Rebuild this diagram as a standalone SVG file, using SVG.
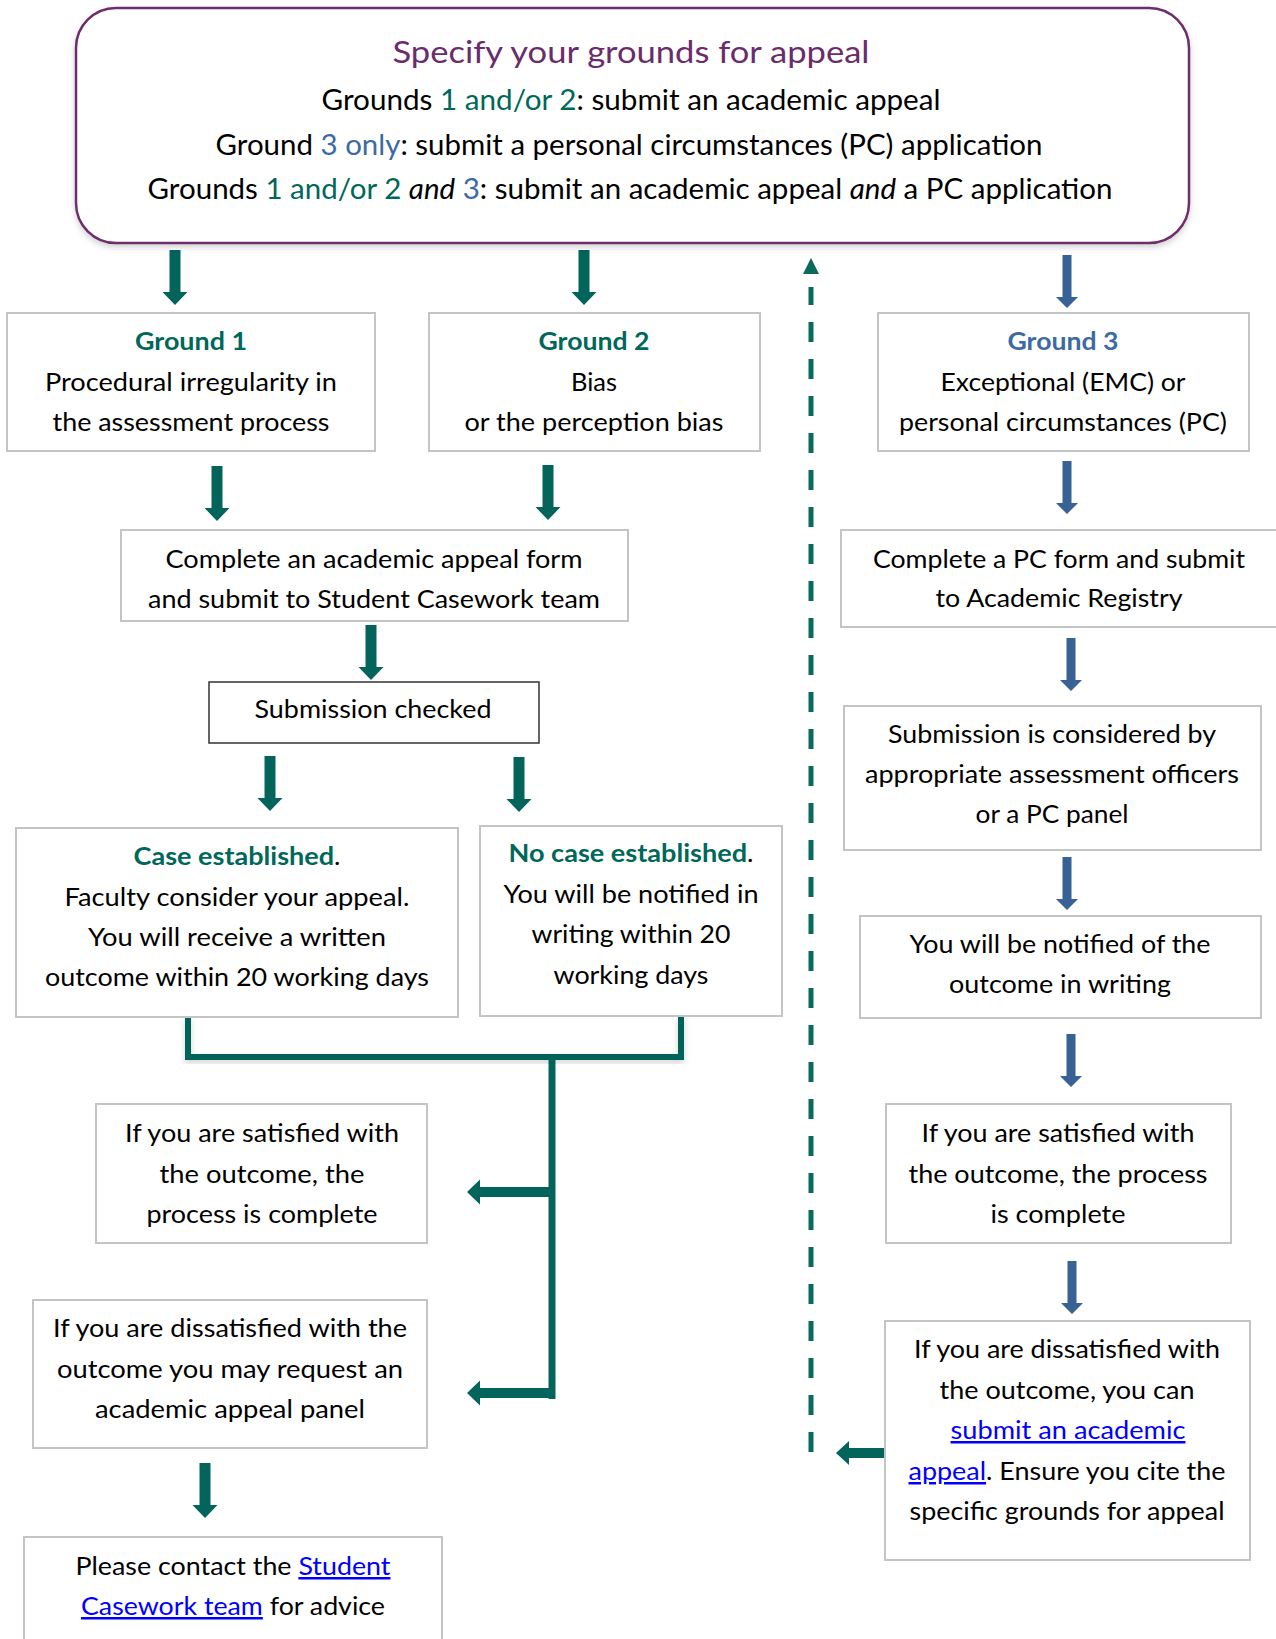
<svg xmlns="http://www.w3.org/2000/svg" xmlns:xlink="http://www.w3.org/1999/xlink" width="1276" height="1639" viewBox="0 0 1276 1639">
<style>
.t{font-family:Lato,"Noto Sans","Open Sans",sans-serif;font-size:25px;fill:#000;text-anchor:middle}
.top{font-size:28.5px}
.title{font-size:30.5px;fill:#6B2C6B}
.b{font-weight:bold}
.i{font-style:italic}
.gr{fill:#00675B}
.bl{fill:#3D6AA3}
.lk{fill:#0000FF;text-decoration:underline}
.blk{fill:#000;font-weight:normal}
.box{fill:#fff;stroke:#C4C4C4;stroke-width:2}
.ga{fill:#02645A}
.ba{fill:#386196}
</style>
<defs>
<filter id="sh" x="-5%" y="-5%" width="110%" height="120%">
<feDropShadow dx="0" dy="3" stdDeviation="3" flood-color="#000" flood-opacity="0.18"/>
</filter>
<path id="gd" class="ga" d="M-5.5,0 H5.5 V42 H12.5 L0,55 L-12.5,42 H-5.5 Z"/>
<path id="bd" class="ba" d="M-4.5,0 H4.5 V42 H11 L0,53 L-11,42 H-4.5 Z"/>
<path id="gl" class="ga" d="M0,0 L13,-12.5 V-5 H85 V5 H13 V12.5 Z"/>
<path id="gl2" class="ga" d="M0,0 L13,-12 V-5 H54 V5 H13 V12 Z"/>
</defs>
<rect width="1276" height="1639" fill="#fff"/>

<g id="connectors">
<use href="#gd" x="175" y="250"/>
<use href="#gd" x="584" y="250"/>
<use href="#gd" x="217" y="466"/>
<use href="#gd" x="548" y="465"/>
<use href="#gd" x="371" y="625"/>
<use href="#gd" x="270" y="756"/>
<use href="#gd" x="519" y="757"/>
<use href="#gd" x="205" y="1463"/>
<use href="#bd" x="1067" y="255"/>
<use href="#bd" x="1067" y="461"/>
<use href="#bd" x="1071" y="638"/>
<use href="#bd" x="1067" y="857"/>
<use href="#bd" x="1071" y="1034"/>
<use href="#bd" x="1072" y="1261"/>
<path d="M188,1017 V1057 H681 V1016" fill="none" stroke="#02645A" stroke-width="6" filter="url(#sh)"/>
<use href="#gl" x="467" y="1192"/>
<use href="#gl" x="467" y="1393"/>
<path d="M552,1057 V1399" fill="none" stroke="#02645A" stroke-width="7"/>
<path d="M811,1452 V287" fill="none" stroke="#0A6A5E" stroke-width="5" stroke-dasharray="20 17"/>
<polygon points="803,274 819,274 811,258" fill="#0A6A5E"/>
<use href="#gl2" x="836" y="1453"/>
</g>

<g id="start">
<rect x="76" y="8" width="1113" height="235" rx="40" fill="#fff" stroke="#6E2E6C" stroke-width="2.5" filter="url(#sh)"/>
<text class="t title" x="631" y="63" textLength="477" lengthAdjust="spacingAndGlyphs">Specify your grounds for appeal</text>
<text class="t top" x="631" y="110" textLength="619" lengthAdjust="spacingAndGlyphs">Grounds <tspan class="gr">1 and/or 2</tspan>: submit an academic appeal</text>
<text class="t top" x="629" y="155" textLength="827" lengthAdjust="spacingAndGlyphs">Ground <tspan class="bl">3 only</tspan>: submit a personal circumstances (PC) application</text>
<text class="t top" x="630" y="199" textLength="965" lengthAdjust="spacingAndGlyphs">Grounds <tspan class="gr">1 and/or 2 </tspan><tspan class="i">and</tspan> <tspan class="bl">3</tspan>: submit an academic appeal <tspan class="i">and</tspan> a PC application</text>
</g>

<g id="ground1">
<rect class="box" x="7" y="313" width="368" height="138"/>
<text class="t b gr" x="191" y="350" textLength="112" lengthAdjust="spacingAndGlyphs">Ground 1</text>
<text class="t" x="191" y="391" textLength="292" lengthAdjust="spacingAndGlyphs">Procedural irregularity in</text>
<text class="t" x="191" y="431" textLength="277" lengthAdjust="spacingAndGlyphs">the assessment process</text>
</g>

<g id="ground2">
<rect class="box" x="429" y="313" width="331" height="138"/>
<text class="t b gr" x="594" y="350" textLength="111" lengthAdjust="spacingAndGlyphs">Ground 2</text>
<text class="t" x="594" y="391" textLength="46" lengthAdjust="spacingAndGlyphs">Bias</text>
<text class="t" x="594" y="431" textLength="259" lengthAdjust="spacingAndGlyphs">or the perception bias</text>
</g>

<g id="ground3">
<rect class="box" x="878" y="313" width="371" height="138"/>
<text class="t b bl" x="1063" y="350" textLength="111" lengthAdjust="spacingAndGlyphs">Ground 3</text>
<text class="t" x="1063" y="391" textLength="245" lengthAdjust="spacingAndGlyphs">Exceptional (EMC) or</text>
<text class="t" x="1063" y="431" textLength="328" lengthAdjust="spacingAndGlyphs">personal circumstances (PC)</text>
</g>

<g id="appeal-form">
<rect class="box" x="121" y="530" width="507" height="91"/>
<text class="t" x="374" y="568" textLength="417" lengthAdjust="spacingAndGlyphs">Complete an academic appeal form</text>
<text class="t" x="374" y="608" textLength="452" lengthAdjust="spacingAndGlyphs">and submit to Student Casework team</text>
</g>

<g id="submission-checked">
<rect x="209" y="682" width="330" height="61" fill="#fff" stroke="#333" stroke-width="1.5"/>
<text class="t" x="373" y="718" textLength="237" lengthAdjust="spacingAndGlyphs">Submission checked</text>
</g>

<g id="case-established">
<rect class="box" x="16" y="828" width="442" height="189"/>
<text class="t b gr" x="237" y="865" textLength="207" lengthAdjust="spacingAndGlyphs">Case established<tspan class="blk">.</tspan></text>
<text class="t" x="237" y="906" textLength="345" lengthAdjust="spacingAndGlyphs">Faculty consider your appeal.</text>
<text class="t" x="237" y="946" textLength="298" lengthAdjust="spacingAndGlyphs">You will receive a written</text>
<text class="t" x="237" y="986" textLength="384" lengthAdjust="spacingAndGlyphs">outcome within 20 working days</text>
</g>

<g id="no-case">
<rect class="box" x="480" y="826" width="302" height="190"/>
<text class="t b gr" x="631" y="862" textLength="245" lengthAdjust="spacingAndGlyphs">No case established<tspan class="blk">.</tspan></text>
<text class="t" x="631" y="903" textLength="255" lengthAdjust="spacingAndGlyphs">You will be notified in</text>
<text class="t" x="631" y="943" textLength="199" lengthAdjust="spacingAndGlyphs">writing within 20</text>
<text class="t" x="631" y="984" textLength="155" lengthAdjust="spacingAndGlyphs">working days</text>
</g>

<g id="satisfied-left">
<rect class="box" x="96" y="1104" width="331" height="139"/>
<text class="t" x="262" y="1142" textLength="274" lengthAdjust="spacingAndGlyphs">If you are satisfied with</text>
<text class="t" x="262" y="1183" textLength="205" lengthAdjust="spacingAndGlyphs">the outcome, the</text>
<text class="t" x="262" y="1223" textLength="231" lengthAdjust="spacingAndGlyphs">process is complete</text>
</g>

<g id="dissatisfied-left">
<rect class="box" x="33" y="1300" width="394" height="148"/>
<text class="t" x="230" y="1337" textLength="354" lengthAdjust="spacingAndGlyphs">If you are dissatisfied with the</text>
<text class="t" x="230" y="1378" textLength="346" lengthAdjust="spacingAndGlyphs">outcome you may request an</text>
<text class="t" x="230" y="1418" textLength="270" lengthAdjust="spacingAndGlyphs">academic appeal panel</text>
</g>

<g id="contact">
<rect class="box" x="24" y="1537" width="418" height="120"/>
<text class="t" x="233" y="1575" textLength="315" lengthAdjust="spacingAndGlyphs">Please contact the <tspan class="lk">Student</tspan></text>
<text class="t" x="233" y="1615" textLength="304" lengthAdjust="spacingAndGlyphs"><tspan class="lk">Casework team</tspan> for advice</text>
</g>

<g id="pc-form">
<rect class="box" x="841" y="530" width="460" height="97"/>
<text class="t" x="1059" y="568" textLength="372" lengthAdjust="spacingAndGlyphs">Complete a PC form and submit</text>
<text class="t" x="1059" y="607" textLength="247" lengthAdjust="spacingAndGlyphs">to Academic Registry</text>
</g>

<g id="considered">
<rect class="box" x="844" y="706" width="417" height="144"/>
<text class="t" x="1052" y="743" textLength="328" lengthAdjust="spacingAndGlyphs">Submission is considered by</text>
<text class="t" x="1052" y="783" textLength="374" lengthAdjust="spacingAndGlyphs">appropriate assessment officers</text>
<text class="t" x="1052" y="823" textLength="153" lengthAdjust="spacingAndGlyphs">or a PC panel</text>
</g>

<g id="notified">
<rect class="box" x="860" y="916" width="401" height="102"/>
<text class="t" x="1060" y="953" textLength="301" lengthAdjust="spacingAndGlyphs">You will be notified of the</text>
<text class="t" x="1060" y="993" textLength="222" lengthAdjust="spacingAndGlyphs">outcome in writing</text>
</g>

<g id="satisfied-right">
<rect class="box" x="886" y="1104" width="345" height="139"/>
<text class="t" x="1058" y="1142" textLength="273" lengthAdjust="spacingAndGlyphs">If you are satisfied with</text>
<text class="t" x="1058" y="1183" textLength="299" lengthAdjust="spacingAndGlyphs">the outcome, the process</text>
<text class="t" x="1058" y="1223" textLength="135" lengthAdjust="spacingAndGlyphs">is complete</text>
</g>

<g id="dissatisfied-right">
<rect class="box" x="885" y="1321" width="365" height="239"/>
<text class="t" x="1067" y="1358" textLength="306" lengthAdjust="spacingAndGlyphs">If you are dissatisfied with</text>
<text class="t" x="1067" y="1399" textLength="255" lengthAdjust="spacingAndGlyphs">the outcome, you can</text>
<text class="t lk" x="1068" y="1439" textLength="235" lengthAdjust="spacingAndGlyphs">submit an academic</text>
<text class="t" x="1067" y="1480" textLength="317" lengthAdjust="spacingAndGlyphs"><tspan class="lk">appeal</tspan>. Ensure you cite the</text>
<text class="t" x="1067" y="1520" textLength="315" lengthAdjust="spacingAndGlyphs">specific grounds for appeal</text>
</g>
</svg>
